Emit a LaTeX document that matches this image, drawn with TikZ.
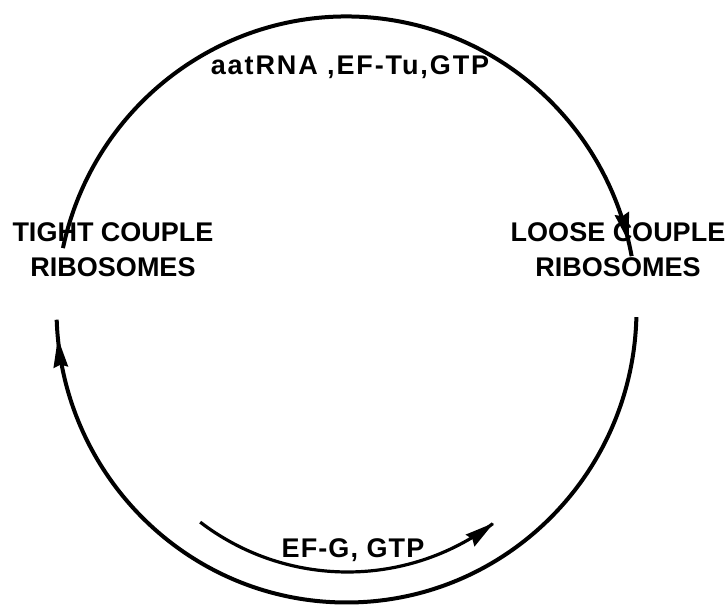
\documentclass[tikz,border=0pt]{standalone}
\usepackage{fontspec}
\setmainfont{Liberation Sans}
\usetikzlibrary{decorations.markings}
\begin{document}
\begin{tikzpicture}[x=1pt,y=1pt,
  lbl/.style={font=\fontsize{27}{35}\selectfont\bfseries, align=center, inner sep=0pt, anchor=base},
  ring/.style={line width=4pt},
  innerarc/.style={line width=3.2pt},
  headat/.style={postaction={decorate},decoration={markings, mark=at position #1 with {\fill (1.5pt,0pt) -- (-28pt,7.5pt) -- (-25pt,0pt) -- (-28pt,-7.5pt) -- cycle;}}}
]
\useasboundingbox (0,0) rectangle (728,606);
\coordinate (O) at (346.5,296.5);
\coordinate (Oi) at (347.5,276.6);
\node[lbl] (top) at (350,531) {\addfontfeatures{LetterSpace=7}aatRNA ,EF-Tu,GTP};
\node[lbl] (tight) at (113,330) {TIGHT COUPLE\\RIBOSOMES};
\node[lbl] (loose) at (618,330) {LOOSE COUPLE\\RIBOSOMES};
\node[lbl] (bot) at (353,49) {\addfontfeatures{LetterSpace=4}EF-G, GTP};
\draw[ring, headat=-16pt] ([shift={(167.9:290 and 293)}]O) arc[start angle=167.9, end angle=10.5, x radius=290, y radius=293];
\draw[ring, headat=-20pt] ([shift={(-1.5:290 and 293)}]O) arc[start angle=-1.5, end angle=-178, x radius=290, y radius=293];
\draw[innerarc, headat=-0.5pt] ([shift={(-127.4:242.6)}]Oi) arc[start angle=-127.4, end angle=-53.2, radius=242.6];
\end{tikzpicture}
\end{document}
